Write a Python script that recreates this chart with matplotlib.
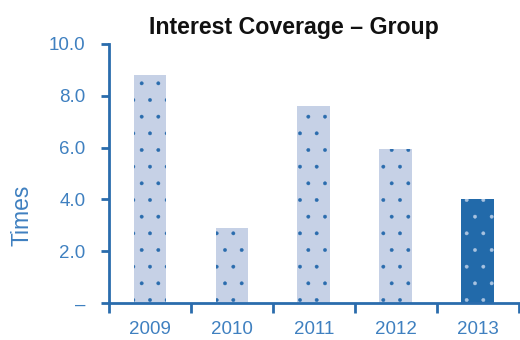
import matplotlib
matplotlib.use("Agg")
import matplotlib.pyplot as plt

years = ["2009", "2010", "2011", "2012", "2013"]
values = [8.8, 2.9, 7.6, 5.95, 4.0]
ytick_vals = [0, 2, 4, 6, 8, 10]
ytick_labels = ["–", "2.0", "4.0", "6.0", "8.0", "10.0"]

light = "#c6d1e6"
dark = "#226aaa"
axis_c = "#2a6cad"
text_c = "#3f80c0"

plt.rcParams['font.family'] = ['Liberation Sans', 'DejaVu Sans']
plt.rcParams['hatch.linewidth'] = 0.3

fig = plt.figure(figsize=(5.2, 3.4), dpi=100)
ax = fig.add_axes([0.2096, 0.1088, 0.788, 0.7618])

x = list(range(len(years)))
colors = [light] * 4 + [dark]
hatch_cols = [axis_c] * 4 + ["#a9c3e0"]
for xi, v, c, hc in zip(x, values, colors, hatch_cols):
    ax.bar(xi, v, width=0.4, color=c, edgecolor=hc, hatch='.', linewidth=0)

ax.set_xlim(-0.5, 4.5)
ax.set_ylim(0, 10)
ax.set_yticks(ytick_vals)
ax.set_yticklabels(ytick_labels)
ax.set_xticks(x)
ax.set_xticklabels(years)
ax.set_xticks([i - 0.5 for i in range(len(years) + 1)], minor=True)
ax.tick_params(axis='x', which='major', length=0, pad=13, labelsize=13.5, labelcolor=text_c)
ax.tick_params(axis='x', which='minor', length=7, width=2, color=axis_c, direction='out')
ax.tick_params(axis='y', length=6, width=2, color=axis_c, labelsize=13.5, labelcolor=text_c, pad=11)

for s in ['top', 'right']:
    ax.spines[s].set_visible(False)
for s in ['left', 'bottom']:
    ax.spines[s].set_color(axis_c)
    ax.spines[s].set_linewidth(2)

fig.text(22 / 520, 1 - 215 / 340, "Times", rotation=90, ha='center', va='center',
         fontsize=16.5, color=text_c)
fig.text(0.565, 0.92, "Interest Coverage – Group", ha='center', va='center',
         fontsize=16.7, fontweight='bold', color='#111111')

fig.savefig("out.png", dpi=100)
